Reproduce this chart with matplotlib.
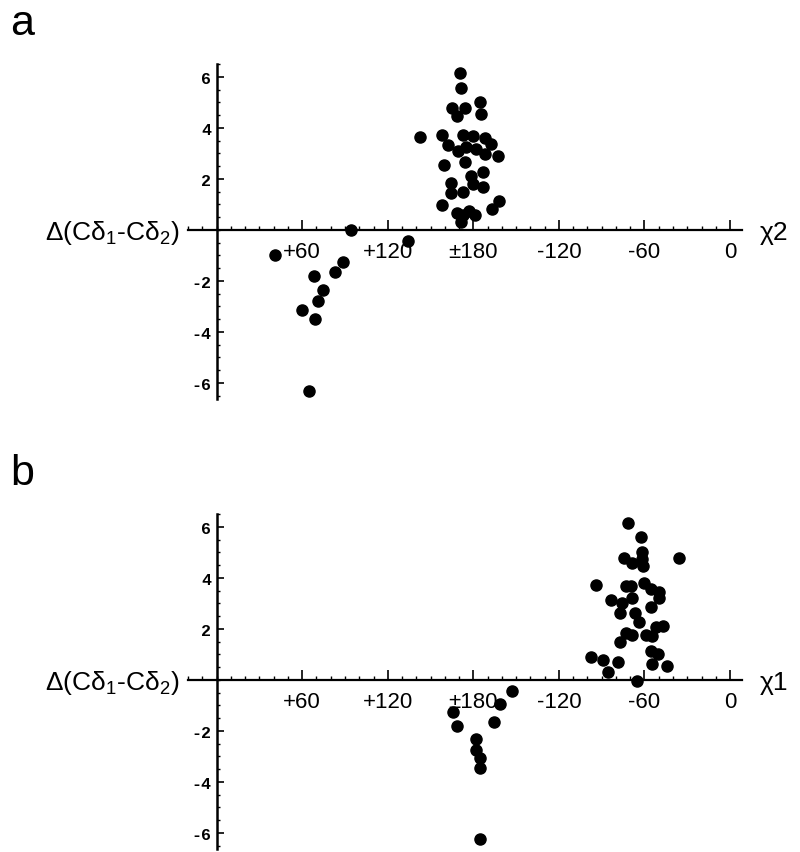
import matplotlib.pyplot as plt
from matplotlib.ticker import MultipleLocator

plt.rcParams['font.family'] = ['Liberation Sans', 'DejaVu Sans']
plt.rcParams['mathtext.fontset'] = 'custom'
plt.rcParams['mathtext.rm'] = 'Liberation Sans'

# panel a: chi2 angle (0..360) vs shift difference
chi2_a = [170.8, 171.5, 165.0, 168.5, 174.4, 184.5, 185.6, 142.5, 157.9, 162.1,
          172.7, 179.8, 188.0, 192.7, 169.2, 175.1, 182.1, 188.0, 197.4, 159.3,
          173.9, 186.8, 178.1, 164.0, 179.8, 186.8, 164.0, 172.7, 157.9, 193.4,
          197.9, 168.7, 176.9, 181.0, 171.5, 172.7,
          40.9, 93.9, 133.9, 88.7, 83.3, 68.0, 74.6, 71.1, 59.8, 69.2, 64.5]
delta_a = [6.15, 5.57, 4.77, 4.46, 4.77, 5.00, 4.55, 3.64, 3.73, 3.33,
           3.73, 3.67, 3.60, 3.37, 3.11, 3.24, 3.18, 2.98, 2.89, 2.55,
           2.65, 2.26, 2.13, 1.84, 1.80, 1.67, 1.45, 1.50, 0.98, 0.82,
           1.15, 0.67, 0.76, 0.59, 0.30, 0.59,
           -0.97, 0.0, -0.44, -1.27, -1.66, -1.82, -2.35, -2.80, -3.12, -3.49, -6.30]

# panel b: chi1 angle vs shift difference
chi1_b = [288.5, 297.9, 324.5, 285.6, 291.5, 298.6, 299.3, 298.1, 266.1, 286.8,
          290.4, 299.8, 304.5, 309.9, 309.9, 276.2, 284.5, 291.5, 304.5, 282.9,
          293.5, 296.3, 312.7, 308.0, 286.8, 291.5, 300.9, 305.6, 282.6, 304.5,
          309.2, 262.8, 270.8, 281.6, 305.6, 315.5, 274.6, 295.0,
          206.8, 198.6, 165.6, 168.7, 194.6, 182.1, 181.6, 184.5, 184.5, 184.5]
delta_b = [6.16, 5.62, 4.77, 4.77, 4.58, 5.00, 4.48, 4.75, 3.73, 3.67,
           3.70, 3.80, 3.57, 3.44, 3.20, 3.14, 3.02, 3.20, 2.88, 2.61,
           2.61, 2.29, 2.13, 2.06, 1.84, 1.76, 1.76, 1.71, 1.47, 1.15,
           1.02, 0.89, 0.80, 0.69, 0.63, 0.56, 0.30, -0.03,
           -0.44, -0.94, -1.27, -1.79, -1.63, -2.31, -2.75, -3.06, -3.46, -6.24]

xtick_pos = [60, 120, 180, 240, 300, 360]
xtick_lbl = ['+60', '+120', '\u00b1180', '-120', '-60', '0']
ytick_pos = [-6, -4, -2, 2, 4, 6]
ytick_lbl = ['-6', '-4', '-2', '2', '4', '6']

W, H = 800, 853
fig = plt.figure(figsize=(W / 100, H / 100), dpi=100)


def panel(top_px, xs, ys, xname, letter):
    # axes box in pixels: x 188..742, y top_px..top_px+335
    ax = fig.add_axes([188 / W, 1 - (top_px + 335) / H, 554 / W, 335 / H])
    ax.plot(xs, ys, 'o', color='black', ms=8, zorder=5, clip_on=False)
    ax.set_xlim(-20.1, 368.4)
    ax.set_ylim(-6.63, 6.51)

    for s in ['top', 'right']:
        ax.spines[s].set_visible(False)
    ax.spines['left'].set_position(('data', 0))
    ax.spines['bottom'].set_position(('data', 0))
    ax.spines['left'].set_linewidth(1.8)
    ax.spines['bottom'].set_linewidth(1.6)

    ax.set_xticks(xtick_pos)
    ax.set_xticklabels(xtick_lbl, fontsize=16)
    ax.xaxis.set_minor_locator(MultipleLocator(10))
    ax.set_yticks(ytick_pos)
    ax.set_yticklabels(ytick_lbl, fontsize=12, fontweight='bold',
                       family='Liberation Mono')
    ax.yaxis.set_minor_locator(MultipleLocator(0.5))
    ax.tick_params(axis='x', which='major', direction='in', length=7,
                   width=1.2, pad=8)
    ax.tick_params(axis='x', which='minor', direction='in', length=3, width=1)
    ax.tick_params(axis='y', which='major', direction='in', length=5,
                   width=1.2, pad=4)
    ax.tick_params(axis='y', which='minor', direction='in', length=2.5, width=1)

    ax.annotate('\u0394(C\u03b4$_1$-C\u03b4$_2$)', xy=(0, 0), xycoords='data',
                xytext=(-37, -2), textcoords='offset pixels',
                ha='right', va='center', fontsize=19)
    ax.annotate(xname, xy=(1, 0), xycoords=('axes fraction', 'data'),
                xytext=(18, -2), textcoords='offset pixels',
                ha='left', va='center', fontsize=19)
    fig.text(10 / W, 1 - (top_px - 30) / H, letter, fontsize=31,
             va='baseline', ha='left')
    return ax


panel(65, chi2_a, delta_a, '\u03c72', 'a')
panel(515, chi1_b, delta_b, '\u03c71', 'b')

fig.savefig('out.png', dpi=100)
